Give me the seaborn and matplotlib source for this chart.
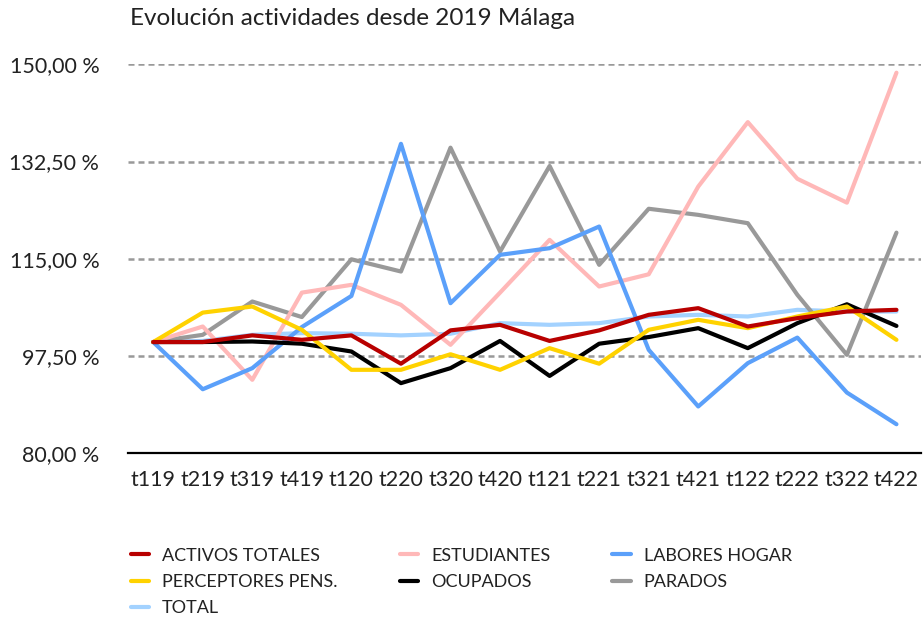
import pandas as pd
import matplotlib.pyplot as plt
import seaborn as sns
from matplotlib.lines import Line2D
from matplotlib.ticker import FuncFormatter

# Datos (índice 100 = t119)
trimestres = ["t119", "t219", "t319", "t419", "t120", "t220", "t320", "t420",
              "t121", "t221", "t321", "t421", "t122", "t222", "t322", "t422"]

activos_totales = [100.0, 100.0, 101.2, 100.4, 101.2, 96.1, 102.1, 103.1,
                   100.2, 102.1, 104.9, 106.1, 102.8, 104.3, 105.5, 105.8]
estudiantes = [100.0, 102.8, 93.2, 108.9, 110.3, 106.7, 99.5, 108.9,
               118.4, 110.0, 112.2, 128.0, 139.6, 129.4, 125.1, 148.5]
labores_hogar = [100.0, 91.5, 95.3, 102.7, 108.3, 135.7, 107.0, 115.7,
                 116.9, 120.8, 98.6, 88.4, 96.2, 100.8, 90.9, 85.2]
perceptores = [100.0, 105.3, 106.4, 102.2, 95.0, 95.0, 97.8, 95.0,
               98.9, 96.1, 102.2, 104.0, 102.5, 104.6, 106.4, 100.4]
ocupados = [100.0, 100.0, 100.1, 99.7, 98.3, 92.6, 95.3, 100.2,
            93.9, 99.7, 100.9, 102.5, 98.9, 103.4, 106.8, 102.9]
parados = [100.0, 101.3, 107.3, 104.5, 114.9, 112.7, 135.0, 116.3,
           131.7, 113.9, 124.0, 122.9, 121.4, 108.5, 97.7, 119.7]
total = [100.0, 100.2, 101.3, 101.6, 101.5, 101.2, 101.5, 103.4,
         103.1, 103.4, 104.6, 104.9, 104.6, 105.8, 105.5, 105.5]

series = {
    "TOTAL": total,
    "PARADOS": parados,
    "ESTUDIANTES": estudiantes,
    "LABORES HOGAR": labores_hogar,
    "OCUPADOS": ocupados,
    "PERCEPTORES PENS.": perceptores,
    "ACTIVOS TOTALES": activos_totales,
}

colores = {
    "ACTIVOS TOTALES": "#B80000",
    "ESTUDIANTES": "#FFB8B8",
    "LABORES HOGAR": "#5BA0FA",
    "PERCEPTORES PENS.": "#FFD200",
    "OCUPADOS": "#000000",
    "PARADOS": "#999999",
    "TOTAL": "#A3D2FF",
}

# orden de la leyenda (por columnas)
orden_leyenda = ["ACTIVOS TOTALES", "PERCEPTORES PENS.", "TOTAL",
                 "ESTUDIANTES", "OCUPADOS",
                 "LABORES HOGAR", "PARADOS"]

filas = []
for nombre, valores in series.items():
    for t, v in zip(trimestres, valores):
        filas.append({"trimestre": t, "valor": v, "serie": nombre})
df = pd.DataFrame(filas)

sns.set_style("white")
plt.rcParams["font.family"] = ["Lato", "DejaVu Sans"]

fig = plt.figure(figsize=(9.24, 6.19), dpi=100)
ax = fig.add_axes([0.139, 0.268, 0.858, 0.628])

sns.lineplot(data=df, x="trimestre", y="valor", hue="serie",
             hue_order=list(series.keys()), palette=colores,
             linewidth=3, legend=False, ax=ax, sort=False)

ax.set_ylim(80, 150)
ax.set_yticks([80, 97.5, 115, 132.5, 150])
ax.yaxis.set_major_formatter(FuncFormatter(lambda v, p: f"{v:.2f}".replace(".", ",") + " %"))
ax.set_xlim(-0.5, len(trimestres) - 0.5)

ax.yaxis.grid(True, color="#999999", linewidth=1.8, linestyle=(0, (2.4, 1.6)))
ax.set_axisbelow(True)
for s in ["top", "right", "left"]:
    ax.spines[s].set_visible(False)
ax.spines["bottom"].set_color("black")
ax.spines["bottom"].set_linewidth(1.6)
ax.spines["bottom"].set_zorder(5)

ax.tick_params(axis="y", length=0, pad=21, labelsize=15.5, labelcolor="#222222")
ax.tick_params(axis="x", length=0, pad=12, labelsize=15.5, labelcolor="#222222")
ax.set_xlabel("")
ax.set_ylabel("")

fig.text(0.1407, 0.970, "Evolución actividades desde 2019 Málaga",
         fontsize=17.5, color="#222222", ha="left", va="center")

handles = [Line2D([0], [0], color=colores[n], linewidth=3) for n in orden_leyenda]
fig.legend(handles, orden_leyenda, ncol=3, loc="upper left",
           bbox_to_anchor=(0.1418, 0.115), frameon=False, fontsize=13,
           handlelength=1.0, handletextpad=0.72, columnspacing=3.45,
           labelspacing=0.56, borderaxespad=0, borderpad=0,
           labelcolor="#222222")

fig.savefig("out.png", dpi=100)
